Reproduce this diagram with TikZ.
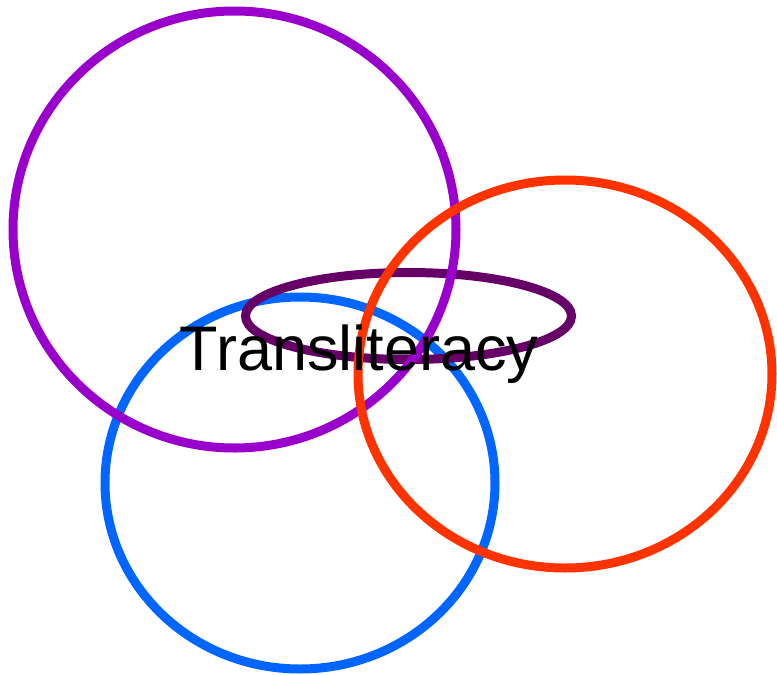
\documentclass[tikz,border=0pt]{standalone}
\usepackage{fontspec}
\setmainfont{Liberation Sans}
\usepackage{tikz}
\usetikzlibrary{shapes.geometric}
\definecolor{ringpurple}{HTML}{9900CC}
\definecolor{ringorange}{HTML}{FF3300}
\definecolor{ringblue}{HTML}{0066FF}
\definecolor{ringplum}{HTML}{660066}
\tikzstyle{ring} = [ellipse, inner sep=0pt, line width=9pt]

\begin{document}
\begin{tikzpicture}[x=1pt, y=-1pt]
\useasboundingbox (0,0) rectangle (777,675);
\node (blue) [ring, draw=ringblue, minimum width=390pt, minimum height=372pt] at (300,483) {};
\node (plum) [ring, draw=ringplum, minimum width=326pt, minimum height=87pt] at (408.5,316) {};
\node (purple) [ring, draw=ringpurple, minimum width=443pt, minimum height=437pt] at (234.5,229.5) {};
\node (orange) [ring, draw=ringorange, minimum width=414pt, minimum height=388pt] at (565,374) {};
\node (label) [anchor=base, font=\fontsize{63pt}{70pt}\selectfont, inner sep=0pt] at (359,370) {Transliteracy};
\end{tikzpicture}
\end{document}
